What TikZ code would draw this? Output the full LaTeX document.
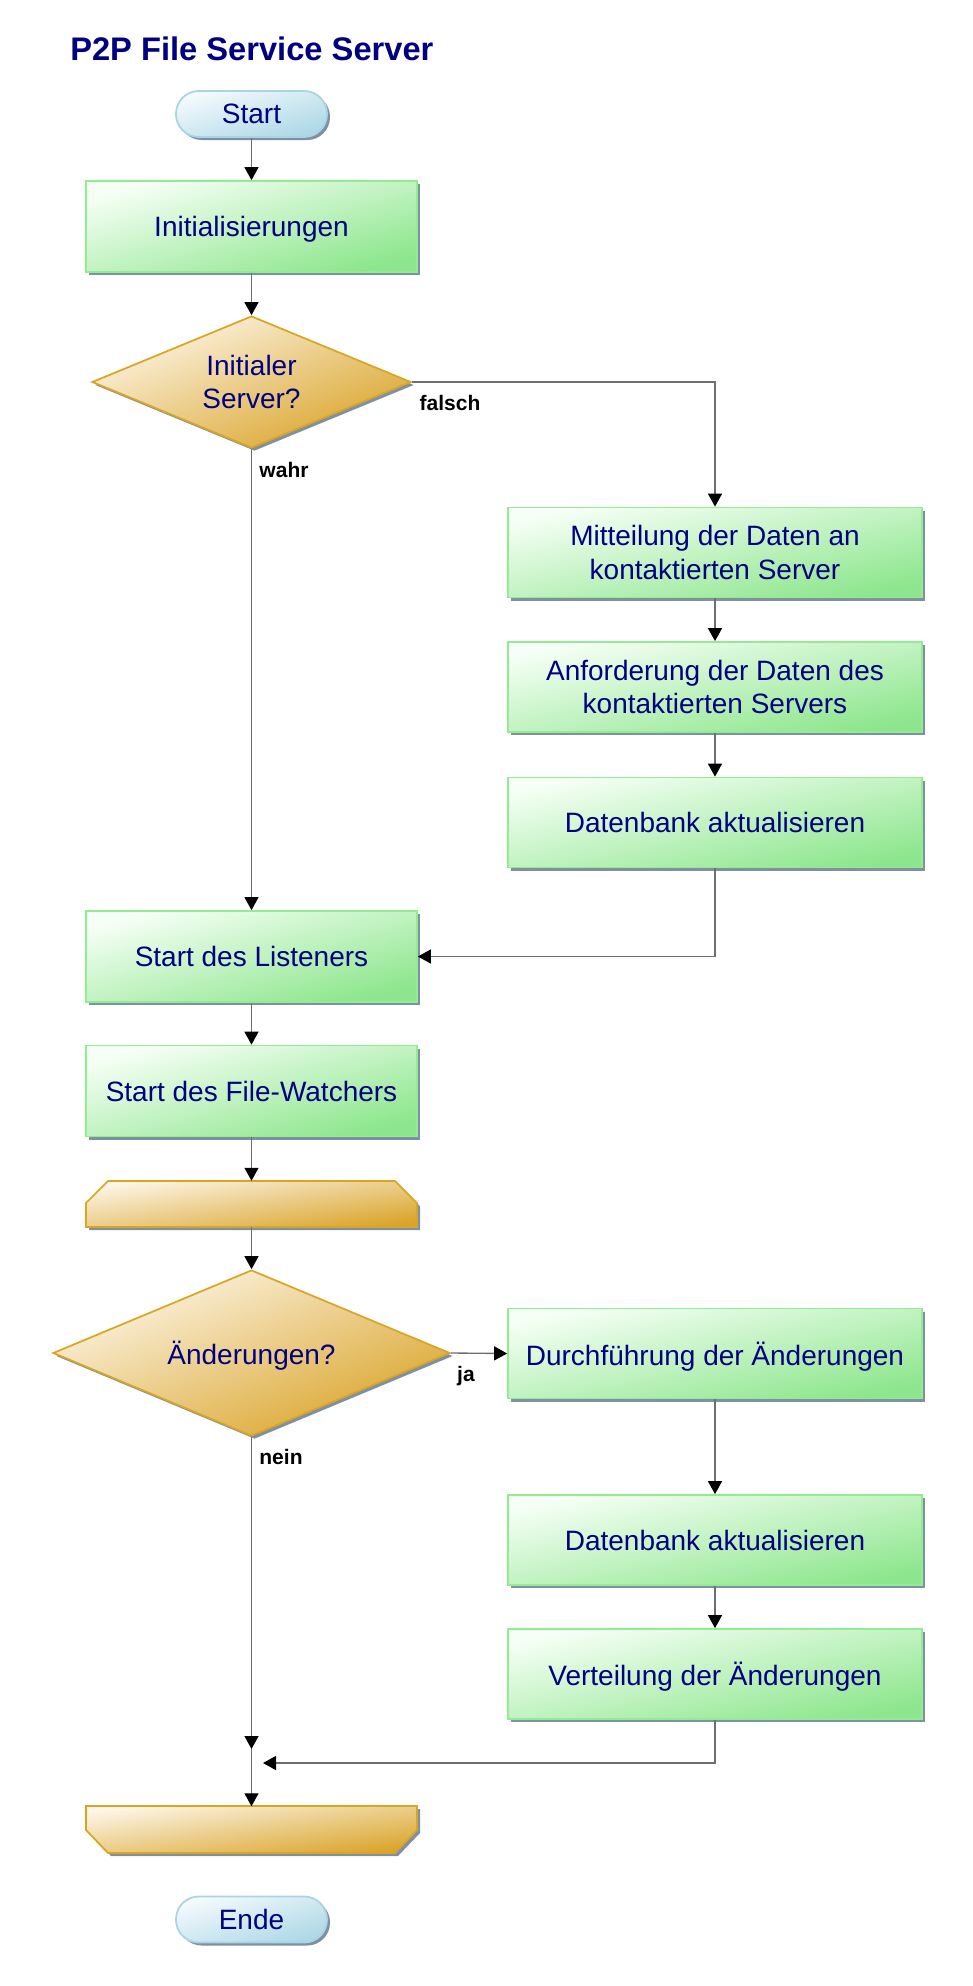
\documentclass[tikz,border=0pt]{standalone}
\usepackage{fontspec}
\setmainfont{Liberation Sans}
\usetikzlibrary{shapes.geometric,arrows.meta,shadows}
\definecolor{navyt}{HTML}{000080}
\definecolor{greenb}{HTML}{90EE90}
\definecolor{greenl}{HTML}{F6FFF6}
\definecolor{greend}{HTML}{8DE68D}
\definecolor{goldb}{HTML}{DAA520}
\definecolor{goldl}{HTML}{FDF6E8}
\definecolor{goldd}{HTML}{DAA42A}
\definecolor{blueb}{HTML}{A8D4E4}
\definecolor{bluel}{HTML}{F4FAFD}
\definecolor{blued}{HTML}{ADD8E6}
\definecolor{shadowc}{HTML}{8090A4}
\definecolor{linec}{HTML}{6E6E6E}
\begin{document}
\begin{tikzpicture}[x=0.75pt,y=-0.75pt,
  txt/.style={text=navyt, font=\fontsize{21}{25}\selectfont, align=center, inner sep=0pt, text depth=0pt},
  shad/.style={general shadow={fill=shadowc, shadow xshift=2.25pt, shadow yshift=-2.25pt}},
  procbox/.style={rectangle, draw=greenb, line width=1.3pt, top color=greenl, bottom color=greend, shad, txt},
  smallbox/.style={procbox, shading angle=15.4, minimum width=248.25pt, minimum height=68.25pt},
  widebox/.style={procbox, shading angle=12.3, minimum width=310.5pt, minimum height=67.5pt},
  decision/.style={diamond, aspect=2.41, draw=goldb, line width=1.3pt, top color=goldl, bottom color=goldd, shading angle=22.5, shad, txt},
  terminal/.style={rectangle, rounded corners=17pt, draw=blueb, line width=1.3pt, top color=bluel, bottom color=blued, shading angle=17, shad, txt, minimum width=113.25pt, minimum height=34.5pt},
  loopfill/.style={draw=goldb, line width=1.3pt, top color=goldl, bottom color=goldd, shading angle=8},
  anchorbox/.style={rectangle, inner sep=0pt, minimum width=248.25pt, minimum height=34.5pt},
  lbl/.style={font=\bfseries\fontsize{15.75}{18}\selectfont, text=black, inner sep=0pt},
  conn/.style={draw=linec, line width=1pt, -{Triangle[length=9.75pt,width=10.5pt,color=black,fill=black]}}
]
\useasboundingbox (0,0) rectangle (973,1986);

\node[anchor=base west, font=\bfseries\fontsize{24.5}{28}\selectfont, text=navyt, inner sep=0pt] (title) at (70,60) {P2P File Service Server};

\node[terminal] (start) at (251.5,114) {Start};
\node[smallbox] (init) at (251.5,226.5) {Initialisierungen};
\node[decision, minimum width=239.25pt, minimum height=99pt] (d1) at (251.5,382) {Initialer\\Server?};
\node[lbl] (lfalsch) at (450,403) {falsch};
\node[lbl] (lwahr) at (284,470) {wahr};

\node[widebox] (mitt) at (715,552.5) {Mitteilung der Daten an\\kontaktierten Server};
\node[widebox] (anf) at (715,687) {Anforderung der Daten des\\kontaktierten Servers};
\node[widebox] (db1) at (715,822.5) {Datenbank aktualisieren};

\node[smallbox] (listener) at (251.5,956.5) {Start des Listeners};
\node[smallbox] (fw) at (251.5,1091) {Start des File-Watchers};

% loop start
\fill[shadowc, shift={(3,3)}] (86,1227) -- (86,1203) -- (108,1181) -- (395,1181) -- (417,1203) -- (417,1227) -- cycle;
\path[loopfill] (86,1227) -- (86,1203) -- (108,1181) -- (395,1181) -- (417,1203) -- (417,1227) -- cycle;
\node[anchorbox] (la) at (251.5,1204) {};

\node[decision, minimum width=297.75pt, minimum height=124.5pt] (d2) at (251.5,1353) {Änderungen?};
\node[lbl] (lja) at (466,1376) {ja};
\node[lbl] (lnein) at (281,1457) {nein};

\node[widebox] (durch) at (715,1353.5) {Durchführung der Änderungen};
\node[widebox] (db2) at (715,1540) {Datenbank aktualisieren};
\node[widebox] (vert) at (715,1674) {Verteilung der Änderungen};

% loop end
\fill[shadowc, shift={(3,3)}] (86,1806) -- (417,1806) -- (417,1830) -- (395,1853) -- (108,1853) -- (86,1830) -- cycle;
\path[loopfill] (86,1806) -- (417,1806) -- (417,1830) -- (395,1853) -- (108,1853) -- (86,1830) -- cycle;
\node[anchorbox] (lb) at (251.5,1829.5) {};

\node[terminal] (ende) at (251.5,1919.5) {Ende};

\coordinate (j1) at (251.5,1749);
\coordinate (j2) at (263,1763);

\draw[conn] (start) -- (init);
\draw[conn] (init) -- (d1);
\draw[conn] (d1.east) -| (mitt.north);
\draw[conn] (d1.south) -- (listener.north);
\draw[conn] (mitt) -- (anf);
\draw[conn] (anf) -- (db1);
\draw[conn] (db1.south) |- (listener.east);
\draw[conn] (listener) -- (fw);
\draw[conn] (fw) -- (la.north);
\draw[conn] (la.south) -- (d2.north);
\draw[conn] (d2.east) -- (durch.west);
\draw[conn] (durch) -- (db2);
\draw[conn] (db2) -- (vert);
\draw[conn] (d2.south) -- (j1);
\draw[conn] (j1) -- (lb.north);
\draw[conn] (vert.south) |- (j2);
\end{tikzpicture}
\end{document}
